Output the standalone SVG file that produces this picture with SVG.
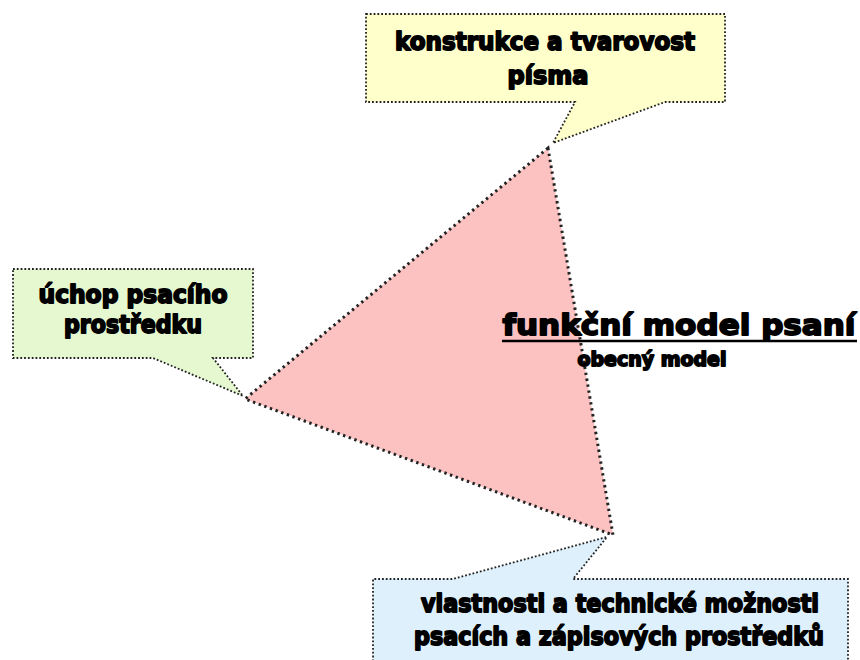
<svg xmlns="http://www.w3.org/2000/svg" width="860" height="660" viewBox="0 0 860 660">
<style>
.call{stroke:#222;stroke-width:1.8;stroke-dasharray:1.8 2;}
.tri{fill:#fcc2c2;stroke:#222;stroke-width:3;stroke-dasharray:2.4 3.6;}
.t{font-family:"DejaVu Sans","Liberation Sans",sans-serif;font-weight:bold;fill:#000;stroke:#000;stroke-width:1.8;stroke-linejoin:round;text-anchor:middle;}
</style>
<rect width="860" height="660" fill="#fff"/>
<g id="callout-top">
<path class="call" fill="#ffffcc" d="M366,14 H725 V102 H665 L553,143 L575,102 H366 Z"/>
<text class="t" x="545" y="50" font-size="24" textLength="300" lengthAdjust="spacingAndGlyphs">konstrukce a tvarovost</text>
<text class="t" x="548" y="84" font-size="24" textLength="81" lengthAdjust="spacingAndGlyphs">písma</text>
</g>
<g id="callout-left">
<path class="call" fill="#e6f8d0" d="M13,269 H253 V358 H213 L243,396 L153,358 H13 Z"/>
<text class="t" x="133" y="303" font-size="24" textLength="189" lengthAdjust="spacingAndGlyphs">úchop psacího</text>
<text class="t" x="133" y="333" font-size="24" textLength="138" lengthAdjust="spacingAndGlyphs">prostředku</text>
</g>
<g id="callout-bottom">
<path class="call" fill="#def0fb" d="M373,665 V579 H453 L607,537 L573,579 H848 V665"/>
<text class="t" x="620" y="612" font-size="24" textLength="398" lengthAdjust="spacingAndGlyphs">vlastnosti a technické možnosti</text>
<text class="t" x="619" y="645" font-size="24" textLength="410" lengthAdjust="spacingAndGlyphs">psacích a zápisových prostředků</text>
</g>
<g id="triangle">
<path class="tri" d="M548,148 L245,399 L613,535 Z"/>
</g>
<g id="title">
<text class="t" x="679" y="335" font-size="29" textLength="353" lengthAdjust="spacingAndGlyphs">funkční model psaní</text>
<line x1="502" y1="341" x2="857" y2="341" stroke="#000" stroke-width="2.4"/>
<text class="t" x="652" y="366" font-size="19" textLength="149" lengthAdjust="spacingAndGlyphs">obecný model</text>
</g>
<g id="connectors"></g>
</svg>
